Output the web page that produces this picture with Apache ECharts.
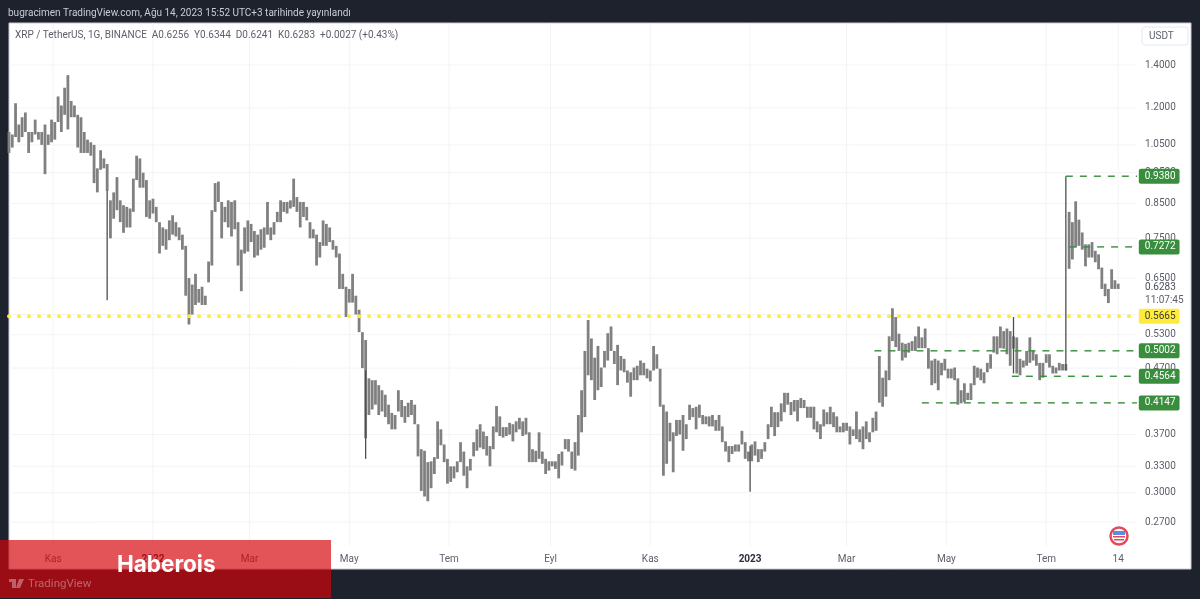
<!DOCTYPE html>
<html>
<head>
<meta charset="utf-8">
<style>
  html, body { margin: 0; padding: 0; background: #1e222d; }
  #chart { width: 1200px; height: 599px; filter: blur(0.4px); }
</style>
<script src="https://cdn.jsdelivr.net/npm/echarts@6/dist/echarts.min.js"></script>
</head>
<body>
<div id="chart"></div>
<script>
// two-day bars, first one on 2021-10-05
const barStart = "2021-10-05";
const barStepDays = 2;
const barHigh = [
  1.10,1.09,1.22,1.13,1.16,1.18,1.10,1.10,1.15,1.10,
  1.10,1.13,1.09,1.15,1.14,1.25,1.21,1.29,1.35,1.23,
  1.21,1.17,1.16,1.10,1.07,1.06,1.05,.965,1.03,1.00,
  .98,.86,.885,.935,.86,.845,.84,.835,.93,1.01,
  1.00,.95,.925,.86,.865,.84,.795,.78,.775,.80,
  .815,.795,.78,.76,.73,.65,.635,.66,.625,.63,
  .61,.69,.83,.915,.92,.855,.84,.86,.855,.86,
  .795,.72,.78,.80,.79,.77,.76,.775,.78,.855,
  .78,.795,.825,.86,.855,.855,.86,.93,.87,.855,
  .855,.84,.795,.775,.76,.74,.80,.79,.78,.745,
  .73,.71,.66,.63,.625,.66,.61,.58,.535,.52,
  .453,.45,.45,.442,.434,.427,.412,.40,.397,.434,
  .419,.41,.415,.419,.412,.384,.351,.349,.335,.336,
  .341,.388,.377,.357,.339,.33,.33,.336,.36,.348,
  .33,.339,.36,.377,.384,.374,.368,.355,.381,.41,
  .395,.38,.38,.386,.384,.388,.393,.388,.393,.373,
  .351,.349,.373,.348,.339,.336,.336,.336,.345,.348,
  .364,.364,.348,.36,.397,.434,.50,.559,.523,.488,
  .509,.471,.50,.533,.546,.50,.511,.491,.486,.466,
  .463,.471,.474,.483,.479,.469,.466,.509,.494,.469,
  .412,.402,.386,.373,.39,.39,.397,.384,.412,.407,
  .409,.412,.397,.395,.395,.397,.39,.397,.381,.361,
  .355,.355,.357,.357,.375,.36,.348,.357,.361,.351,
  .351,.36,.384,.409,.401,.401,.414,.43,.43,.416,
  .419,.419,.422,.419,.409,.409,.409,.388,.384,.405,
  .401,.409,.401,.395,.381,.386,.386,.381,.377,.402,
  .377,.381,.388,.373,.393,.402,.491,.454,.466,.527,
  .583,.565,.532,.515,.513,.515,.518,.527,.546,.525,
  .542,.505,.483,.486,.483,.479,.486,.469,.469,.471,
  .453,.434,.445,.43,.445,.474,.471,.469,.463,.479,
  .494,.527,.527,.546,.537,.542,.537,.527,.525,.486,
  .483,.50,.525,.50,.494,.479,.479,.494,.494,.474,
  .471,.479,.477,.477,.825,.795,.857,.802,.766,.734,
  .734,.74,.717,.708,.675,.637,.625,.671,.645,.637
];
const barLow = [
  1.02,1.04,1.08,1.06,1.08,1.10,1.02,1.06,1.09,1.07,
  1.05,.945,1.05,1.06,1.07,1.14,1.10,1.17,1.11,1.16,
  1.16,1.04,1.02,1.02,1.02,1.01,.915,.885,.96,.965,
  .89,.75,.805,.83,.795,.765,.78,.78,.825,.925,
  .90,.90,.81,.805,.82,.795,.71,.73,.72,.745,
  .76,.755,.745,.72,.61,.55,.57,.59,.595,.59,
  .59,.64,.68,.825,.855,.75,.795,.78,.755,.775,
  .68,.62,.71,.715,.74,.70,.705,.72,.725,.76,
  .745,.76,.795,.795,.825,.82,.835,.84,.825,.78,
  .81,.80,.75,.75,.68,.70,.73,.73,.74,.72,
  .70,.625,.625,.565,.595,.595,.57,.535,.47,.365,
  .397,.405,.412,.397,.402,.394,.384,.377,.377,.402,
  .394,.386,.394,.397,.384,.342,.302,.296,.291,.305,
  .321,.339,.356,.335,.31,.312,.316,.323,.335,.319,
  .305,.325,.342,.349,.353,.351,.343,.33,.351,.373,
  .368,.366,.368,.37,.361,.373,.377,.368,.37,.335,
  .335,.335,.339,.333,.321,.325,.33,.327,.316,.331,
  .351,.348,.327,.325,.343,.373,.394,.458,.45,.419,
  .434,.439,.471,.483,.50,.477,.442,.466,.463,.446,
  .424,.45,.45,.458,.458,.453,.448,.466,.469,.409,
  .319,.333,.361,.323,.368,.37,.349,.364,.39,.394,
  .377,.393,.384,.384,.381,.381,.375,.375,.36,.348,
  .335,.345,.348,.348,.357,.339,.336,.336,.343,.335,
  .339,.348,.364,.38,.368,.38,.388,.401,.412,.397,
  .402,.388,.407,.407,.393,.393,.377,.373,.364,.381,
  .384,.384,.38,.373,.373,.373,.375,.357,.368,.364,
  .36,.351,.364,.36,.373,.375,.415,.409,.424,.45,
  .518,.507,.50,.483,.488,.497,.50,.50,.505,.505,
  .505,.469,.442,.445,.434,.458,.466,.453,.453,.45,
  .412,.414,.416,.419,.419,.442,.454,.45,.445,.463,
  .469,.497,.494,.505,.504,.494,.474,.504,.461,.458,
  .471,.474,.479,.483,.474,.45,.454,.479,.471,.461,
  .461,.466,.466,.466,.672,.695,.726,.73,.72,.678,
  .70,.70,.688,.671,.625,.609,.594,.625,.625,.625
];

// long single bars drawn thin
const spikeDates = ["2021-12-04", "2022-05-11", "2023-01-01", "2023-06-11", "2023-07-13"];
const spikeHigh = [0.892, 0.466, 0.355, 0.565, 0.938];
const spikeLow = [0.600, 0.339, 0.301, 0.461, 0.466];

const priceTicks = [1.4, 1.2, 1.05, 0.95, 0.85, 0.75, 0.65, 0.57, 0.53, 0.47, 0.37, 0.33, 0.30, 0.27];
const timeTickDates = ["2021-11-01", "2022-01-01", "2022-03-01", "2022-05-01", "2022-07-01", "2022-09-01",
  "2022-11-01", "2023-01-01", "2023-03-01", "2023-05-01", "2023-07-01", "2023-08-14"];
const timeTickLabels = ["Kas", "2022", "Mar", "May", "Tem", "Eyl", "Kas", "2023", "Mar", "May", "Tem", "14"];

const levelPrices = [0.938, 0.7272, 0.5002, 0.4564, 0.4147];
const levelStarts = ["2023-07-13", "2023-07-15", "2023-03-18", "2023-06-10", "2023-04-16"];
const supportPrice = 0.5665;
const lastPrice = 0.6283;
const countdownText = "11:07:45";

const DAY = 86400000;
const toMs = (d) => new Date(d).getTime();
const xMin = toMs(barStart);
const xMax = xMin + 722.5 * DAY;
const yMin = 0.228;
const yMax = 1.6286;
const gridEndX = xMin + 689.5 * DAY;
const gridEndY = 0.2477;
const tickLabelX = xMin + 694.4 * DAY;
const boxLabelX = xMin + 690.6 * DAY;
const timeLabelY = 0.2363;

const FONT = "Roboto, sans-serif";
const TEXT = "#5d606b";
const GREEN = "#388e3c";

const bars = barHigh.map((h, i) => [xMin + i * barStepDays * DAY, h, barLow[i]]);
const spikes = spikeDates.map((d, i) => [toMs(d), spikeHigh[i], spikeLow[i]]);

function rangeBar(width, color) {
  return (params, api) => {
    const top = api.coord([api.value(0), api.value(1)]);
    const bottom = api.coord([api.value(0), api.value(2)]);
    return {
      type: "line",
      shape: { x1: top[0], y1: top[1], x2: bottom[0], y2: bottom[1] },
      style: { stroke: color, lineWidth: width, fill: null },
    };
  };
}

function gridLine(params, api) {
  const a = api.coord([api.value(0), api.value(1)]);
  const b = api.coord([api.value(2), api.value(3)]);
  return {
    type: "line",
    shape: { x1: a[0], y1: a[1], x2: b[0], y2: b[1] },
    style: { stroke: "#f3f4f6", lineWidth: 1, fill: null },
  };
}

const gridRows = priceTicks.map((p) => [xMin, p, gridEndX, p])
  .concat(timeTickDates.map((d) => [toMs(d), yMax, toMs(d), gridEndY]));

function labelSeries(name, items, z) {
  return {
    name,
    type: "scatter",
    symbolSize: 0,
    silent: true,
    z: z,
    itemStyle: { opacity: 1 },
    data: items,
  };
}

const priceLabelItems = priceTicks.map((p) => ({
  value: [tickLabelX, p],
  label: {
    show: true, position: "right", distance: 0,
    formatter: p.toFixed(4), color: TEXT, fontFamily: FONT, fontSize: 10,
  },
}));

const timeLabelItems = timeTickDates.map((d, i) => {
  const isYear = /^\d{4}$/.test(timeTickLabels[i]);
  return {
    value: [toMs(d), timeLabelY],
    label: {
      show: true, position: "inside",
      formatter: timeTickLabels[i],
      color: isYear ? "#2a2e39" : TEXT,
      fontWeight: isYear ? "bold" : "normal",
      fontFamily: FONT, fontSize: 10,
    },
  };
});

const boxItems = levelPrices.map((p) => ({
  value: [boxLabelX, p],
  label: {
    show: true, position: "right", distance: 0,
    formatter: p.toFixed(4), color: "#fff", backgroundColor: GREEN,
    padding: [3, 4, 2, 6], borderRadius: 2, fontFamily: FONT, fontSize: 10,
  },
})).concat([{
  value: [boxLabelX, supportPrice],
  label: {
    show: true, position: "right", distance: 0,
    formatter: supportPrice.toFixed(4), color: "#3a3a3a", backgroundColor: "#ffeb3b",
    padding: [3, 4, 2, 6], borderRadius: 2, fontFamily: FONT, fontSize: 10,
  },
}]);

const lastItems = [
  {
    value: [tickLabelX, lastPrice],
    label: { show: true, position: "right", distance: 0, formatter: lastPrice.toFixed(4), color: "#4a4d57", fontFamily: FONT, fontSize: 10 },
  },
  {
    value: [tickLabelX, 0.6],
    label: { show: true, position: "right", distance: 0, formatter: countdownText, color: TEXT, fontFamily: FONT, fontSize: 10 },
  },
];

const levelSeries = levelPrices.map((p, i) => ({
  type: "line",
  silent: true,
  symbol: "none",
  z: 4,
  lineStyle: { color: GREEN, width: 1.4, type: [7, 7] },
  data: [[toMs(levelStarts[i]), p], [gridEndX, p]],
}));

const chart = echarts.init(document.getElementById("chart"));
chart.setOption({
  animation: false,
  backgroundColor: "#1e222d",
  grid: { left: 9, right: 9, top: 23, bottom: 30, show: true, backgroundColor: "#ffffff", borderColor: "#c9cbd1", borderWidth: 1 },
  xAxis: { type: "time", min: xMin, max: xMax, axisLine: { show: false }, axisTick: { show: false }, axisLabel: { show: false }, splitLine: { show: false } },
  yAxis: { type: "log", logBase: 10, min: yMin, max: yMax, axisLine: { show: false }, axisTick: { show: false }, axisLabel: { show: false }, splitLine: { show: false }, minorSplitLine: { show: false } },
  series: [
    { type: "custom", silent: true, z: 1, renderItem: gridLine, encode: { x: [0, 2], y: [1, 3] }, data: gridRows },
    { type: "custom", silent: true, z: 2, renderItem: rangeBar(2.8, "#808080"), encode: { x: 0, y: [1, 2] }, data: bars },
    { type: "custom", silent: true, z: 3, renderItem: rangeBar(1.3, "#4f4f4f"), encode: { x: 0, y: [1, 2] }, data: spikes },
    {
      type: "line", silent: true, symbol: "none", z: 4,
      lineStyle: { color: "#ffeb3b", width: 4, type: [0, 10], cap: "round" },
      data: [[xMin, supportPrice], [gridEndX, supportPrice]],
    },
    ...levelSeries,
    labelSeries("priceLabels", priceLabelItems, 5),
    labelSeries("timeLabels", timeLabelItems, 5),
    labelSeries("lastLabels", lastItems, 5),
    labelSeries("levelBoxes", boxItems, 6),
  ],
  graphic: [
    { type: "text", z: 50, left: 8, top: 8, style: { text: "bugracimen TradingView.com, Ağu 14, 2023 15:52 UTC+3 tarihinde yayınlandı", fill: "#c9ccd4", font: "10px " + FONT } },
    { type: "text", z: 50, left: 15, top: 30, style: { text: "XRP / TetherUS, 1G, BINANCE  A0.6256  Y0.6344  D0.6241  K0.6283  +0.0027 (+0.43%)", fill: TEXT, font: "10px " + FONT } },
    { type: "rect", z: 50, shape: { x: 1142, y: 27, width: 46, height: 18, r: 3 }, style: { fill: "#fff", stroke: "#e6e8ee", lineWidth: 1 } },
    { type: "text", z: 51, left: 1149, top: 31, style: { text: "USDT", fill: TEXT, font: "10px " + FONT } },
    // economic event flag
    { type: "circle", z: 50, shape: { cx: 1119, cy: 536, r: 8.5 }, style: { fill: "#fff", stroke: "#e5475b", lineWidth: 2.5 } },
    { type: "rect", z: 51, shape: { x: 1113, y: 531, width: 12, height: 4 }, style: { fill: "#5b8de0" } },
    { type: "rect", z: 51, shape: { x: 1113, y: 536, width: 12, height: 1.5 }, style: { fill: "#e5475b" } },
    { type: "rect", z: 51, shape: { x: 1114, y: 539, width: 10, height: 1.5 }, style: { fill: "#e5475b" } },
    // red banner over the bottom left corner
    { type: "rect", z: 60, shape: { x: 0, y: 540, width: 331, height: 58 }, style: { fill: "rgba(214,4,10,0.684)" } },
    { type: "text", z: 61, left: 117, top: 554, style: { text: "Haberois", fill: "#fff", font: "bold 22.5px Inter, sans-serif" } },
    { type: "text", z: 61, left: 28, top: 578, style: { text: "TradingView", fill: "rgba(255,255,255,0.35)", font: "11.5px " + FONT } },
    { type: "rect", z: 61, shape: { x: 9, y: 579, width: 7, height: 3 }, style: { fill: "rgba(255,255,255,0.35)" } },
    { type: "rect", z: 61, shape: { x: 12, y: 582, width: 4, height: 6 }, style: { fill: "rgba(255,255,255,0.35)" } },
    { type: "polygon", z: 61, shape: { points: [[19, 579], [24, 579], [20, 588], [16, 588]] }, style: { fill: "rgba(255,255,255,0.35)" } },
  ],
});
</script>
</body>
</html>
